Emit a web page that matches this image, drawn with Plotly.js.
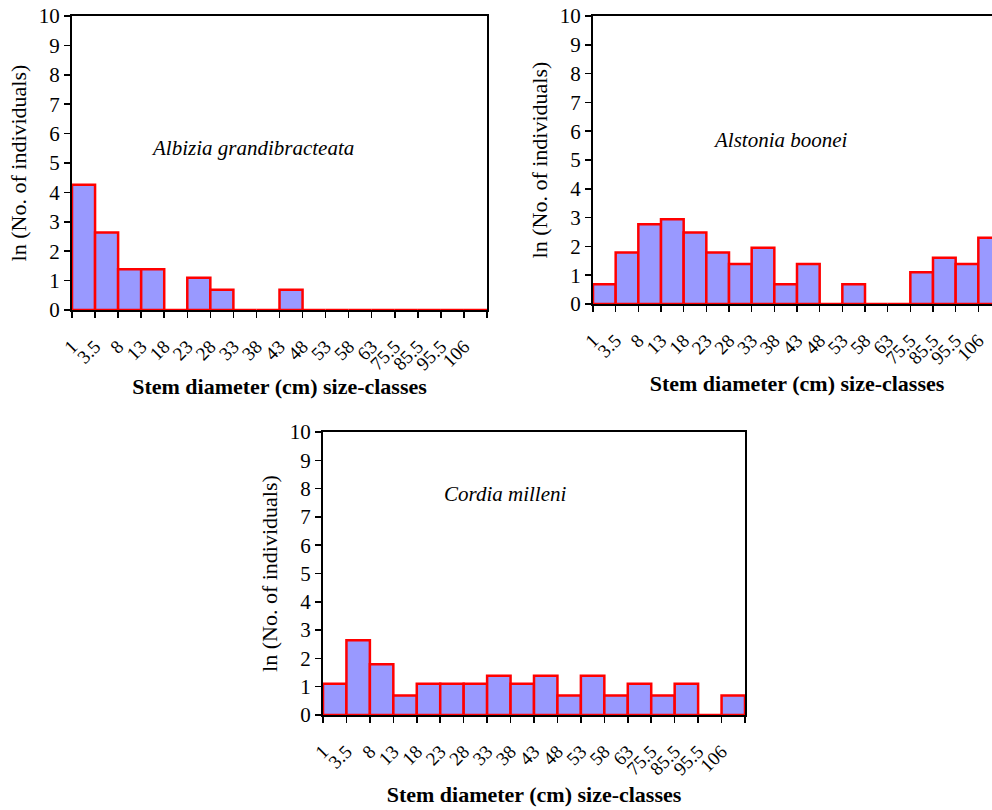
<!DOCTYPE html>
<html>
<head>
<meta charset="utf-8">
<script src="https://cdn.plot.ly/plotly-3.0.1.min.js"></script>
<style>
html,body{margin:0;padding:0;overflow:hidden;background:#fff;}
#chart{width:1010px;height:810px;}
</style>
</head>
<body>
<div id="chart"></div>
<script>
// Size-class labels (left boundary of each class)
const sizeClasses = ["1","3.5","8","13","18","23","28","33","38","43","48","53","58","63","75.5","85.5","95.5","106"];

// ln(No. of individuals) per size class
const albiziaValues  = [4.26, 2.64, 1.39, 1.39, 0, 1.10, 0.69, 0, 0, 0.69, 0, 0, 0, 0, 0, 0, 0, 0];
const alstoniaValues = [0.69, 1.79, 2.77, 2.94, 2.48, 1.79, 1.39, 1.95, 0.69, 1.39, 0, 0.69, 0, 0, 1.10, 1.61, 1.39, 2.30];
const cordiaValues   = [1.10, 2.64, 1.79, 0.69, 1.10, 1.10, 1.10, 1.39, 1.10, 1.39, 0.69, 1.39, 0.69, 1.10, 0.69, 1.10, 0, 0.69];

const speciesNames = ["Albizia grandibracteata", "Alstonia boonei", "Cordia milleni"];
const yTitle = "ln (No. of individuals)";
const xTitle = "Stem diameter (cm) size-classes";

const W = 1010, H = 810;
const serif = "Liberation Serif, Times New Roman, serif";

function barTrace(vals, xa, ya) {
  return {
    type: "bar",
    x: vals.map((v, i) => i + 0.5),
    y: vals,
    width: 1,
    xaxis: xa, yaxis: ya,
    marker: {color: "#9999FF", line: {color: "#FF0000", width: 2.5}},
    hoverinfo: "skip",
    showlegend: false
  };
}

const tickvals = sizeClasses.map((c, i) => i).concat([sizeClasses.length]);
const ticktext = sizeClasses.concat([""]);

function xAxis(domainPx, standoff) {
  return {
    domain: [domainPx[0] / W, domainPx[1] / W],
    range: [0, sizeClasses.length],
    tickmode: "array", tickvals: tickvals, ticktext: ticktext,
    tickangle: -45,
    ticks: "outside", ticklen: 6, tickwidth: 1.5, tickcolor: "#000",
    ticklabelstandoff: 10,
    showline: true, linecolor: "#000", linewidth: 2, mirror: true,
    showgrid: false, zeroline: false,
    tickfont: {family: serif, size: 19, color: "#000"},
    title: {text: "<b>" + xTitle + "</b>", font: {family: serif, size: 22, color: "#000"}, standoff: standoff},
    fixedrange: true
  };
}
function yAxis(domainPx, anchor) {
  return {
    domain: [(H - domainPx[1]) / H, (H - domainPx[0]) / H],
    range: [0, 10], dtick: 1, tick0: 0,
    ticks: "outside", ticklen: 6, tickwidth: 1.5, tickcolor: "#000",
    showline: true, linecolor: "#000", linewidth: 2, mirror: true,
    showgrid: false, zeroline: false,
    tickfont: {family: serif, size: 21, color: "#000"},
    title: {text: yTitle, font: {family: serif, size: 22, color: "#000"}, standoff: 6},
    anchor: anchor,
    fixedrange: true
  };
}

const data = [
  barTrace(albiziaValues, "x", "y"),
  barTrace(alstoniaValues, "x2", "y2"),
  barTrace(cordiaValues, "x3", "y3")
];

const ann = (text, xPx, yPx) => ({
  text: "<i>" + text + "</i>", xref: "paper", yref: "paper",
  x: xPx / W, y: (H - yPx) / H, xanchor: "center", yanchor: "middle",
  showarrow: false, font: {family: serif, size: 21, color: "#000"}
});

const layout = {
  width: W, height: H,
  margin: {l: 0, r: 0, t: 0, b: 0},
  paper_bgcolor: "#fff", plot_bgcolor: "#fff",
  bargap: 0,
  xaxis: Object.assign(xAxis([72, 487], 2), {anchor: "y"}),
  yaxis: yAxis([16, 310], "x"),
  xaxis2: Object.assign(xAxis([593, 1001], 8), {anchor: "y2"}),
  yaxis2: yAxis([16, 304], "x2"),
  xaxis3: Object.assign(xAxis([323, 745], 8), {anchor: "y3"}),
  yaxis3: yAxis([432, 715], "x3"),
  annotations: [
    ann(speciesNames[0], 252, 148),
    ann(speciesNames[1], 780, 140),
    ann(speciesNames[2], 505, 494)
  ]
};

Plotly.newPlot("chart", data, layout, {displayModeBar: false, staticPlot: true});
</script>
</body>
</html>
